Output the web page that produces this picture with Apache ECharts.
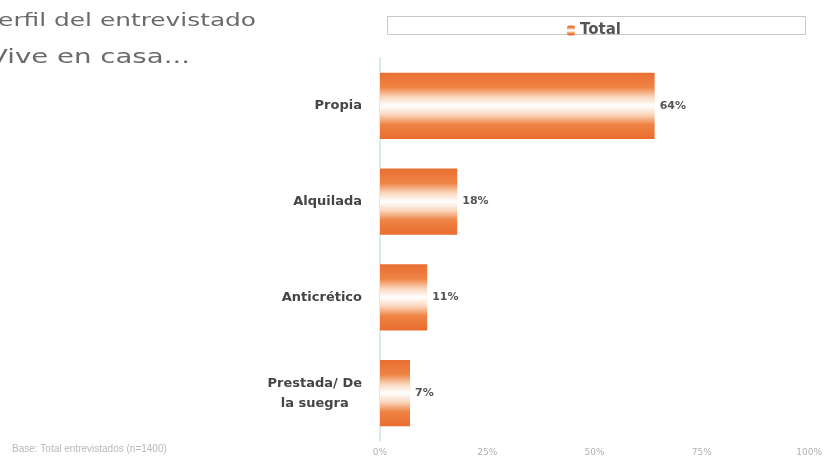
<!DOCTYPE html>
<html>
<head>
<meta charset="utf-8">
<script src="https://cdn.jsdelivr.net/npm/echarts@6/dist/echarts.min.js"></script>
<style>
  html, body { margin: 0; padding: 0; background: #fff; }
  #chart { width: 825px; height: 461px; }
</style>
</head>
<body>
<div id="chart"></div>
<script>
// Housing situation of respondents
const categories = ['Propia', 'Alquilada', 'Anticrético', 'Prestada/ De\nla suegra'];
const totalValues = [64, 18, 11, 7];
const seriesName = 'Total';
const axisTicks = [0, 25, 50, 75, 100];

const barGradient = new echarts.graphic.LinearGradient(0, 0, 0, 1, [
  { offset: 0, color: '#E96F32' },
  { offset: 0.22, color: '#EF8445' },
  { offset: 0.37, color: '#FAD8C0' },
  { offset: 0.5, color: '#FFFFFF' },
  { offset: 0.63, color: '#FAD8C0' },
  { offset: 0.78, color: '#EF8445' },
  { offset: 1, color: '#E86C2E' }
]);

const chart = echarts.init(document.getElementById('chart'), null, { renderer: 'canvas' });

chart.setOption({
  backgroundColor: '#ffffff',
  animation: false,
  textStyle: { fontFamily: '"DejaVu Sans", sans-serif' },
  graphic: [
    {
      type: 'text', left: -16, top: 12, scaleX: 1.38,
      style: { text: 'Perfil del entrevistado', font: '18px "DejaVu Sans", sans-serif', fill: '#6a6a6a' }
    },
    {
      type: 'text', left: -11, top: 48, scaleX: 1.38,
      style: { text: 'Vive en casa...', font: '20px "DejaVu Sans", sans-serif', fill: '#6a6a6a' }
    },
    {
      type: 'rect', left: 387, top: 16,
      shape: { width: 418, height: 18 },
      style: { fill: '#ffffff', stroke: '#c8c8c8', lineWidth: 1 }
    },
    {
      type: 'text', left: 12, top: 444,
      style: { text: 'Base: Total entrevistados (n=1400)', font: '10px "Liberation Sans", sans-serif', fill: '#b8b8b8' }
    }
  ],
  legend: {
    data: [seriesName],
    left: 562, top: 18,
    itemWidth: 8, itemHeight: 10, itemGap: 8,
    textStyle: { fontSize: 15, fontWeight: 'bold', color: '#555', fontFamily: '"DejaVu Sans", sans-serif' }
  },
  grid: { left: 380, right: 14, top: 58, bottom: 20, containLabel: false },
  xAxis: {
    type: 'value',
    min: axisTicks[0], max: axisTicks[axisTicks.length - 1], interval: 25,
    axisLine: { show: false },
    axisTick: { show: false },
    splitLine: { show: false },
    axisLabel: { formatter: '{value}%', fontSize: 9, color: '#b0b0b0', margin: 7 }
  },
  yAxis: {
    type: 'category',
    inverse: true,
    data: categories,
    axisLine: { show: true, lineStyle: { color: '#cfe3e6', width: 1.5 } },
    axisTick: { show: false },
    axisLabel: {
      margin: 18,
      align: 'right',
      formatter: function (v) {
        return v.split('\n').map(function (line) { return '{c|' + line + '}'; }).join('\n');
      },
      rich: {
        c: {
          align: 'center', fontSize: 13, fontWeight: 'bold', color: '#454545',
          lineHeight: 20, fontFamily: '"DejaVu Sans", sans-serif'
        }
      }
    }
  },
  series: [{
    name: seriesName,
    type: 'bar',
    data: totalValues,
    barWidth: '69%',
    itemStyle: { color: barGradient },
    label: {
      show: true, position: 'right', distance: 5,
      formatter: '{c}%', fontSize: 11, fontWeight: 'bold', color: '#555'
    }
  }]
});
</script>
</body>
</html>
